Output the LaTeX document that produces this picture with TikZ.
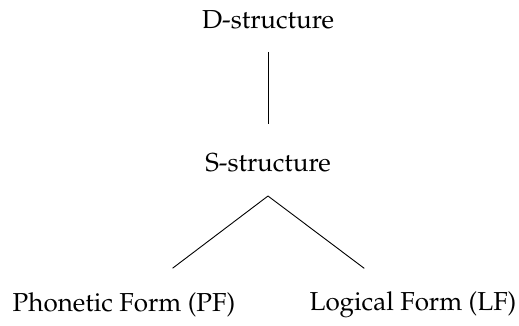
\documentclass[tikz,border=0pt]{standalone}
\usepackage[T1]{fontenc}
\usepackage{mathpazo}
\usepackage{tikz}
\usetikzlibrary{positioning}

\begin{document}
\begin{tikzpicture}[
    x=1pt, y=-1pt,
    level/.style={inner sep=0pt, font=\fontsize{26}{30}\selectfont},
    branch/.style={line width=0.9pt}
]
\useasboundingbox (0,0) rectangle (519,326);

\node[level] (dstr) at (268,20) {D-structure};
\node[level] (sstr) at (268,163) {S-structure};
\node[level] (pf) at (124,305) {Phonetic Form (PF)};
\node[level] (lf) at (413,305) {Logical Form (LF)};
\coordinate (fork) at (268,196);

\draw[branch, shorten <=32pt, shorten >=39pt] (dstr.center) -- (sstr.center);
\draw[branch, shorten >=61pt] (fork) -- (pf.center);
\draw[branch, shorten >=61pt] (fork) -- (lf.center);

\end{tikzpicture}
\end{document}
